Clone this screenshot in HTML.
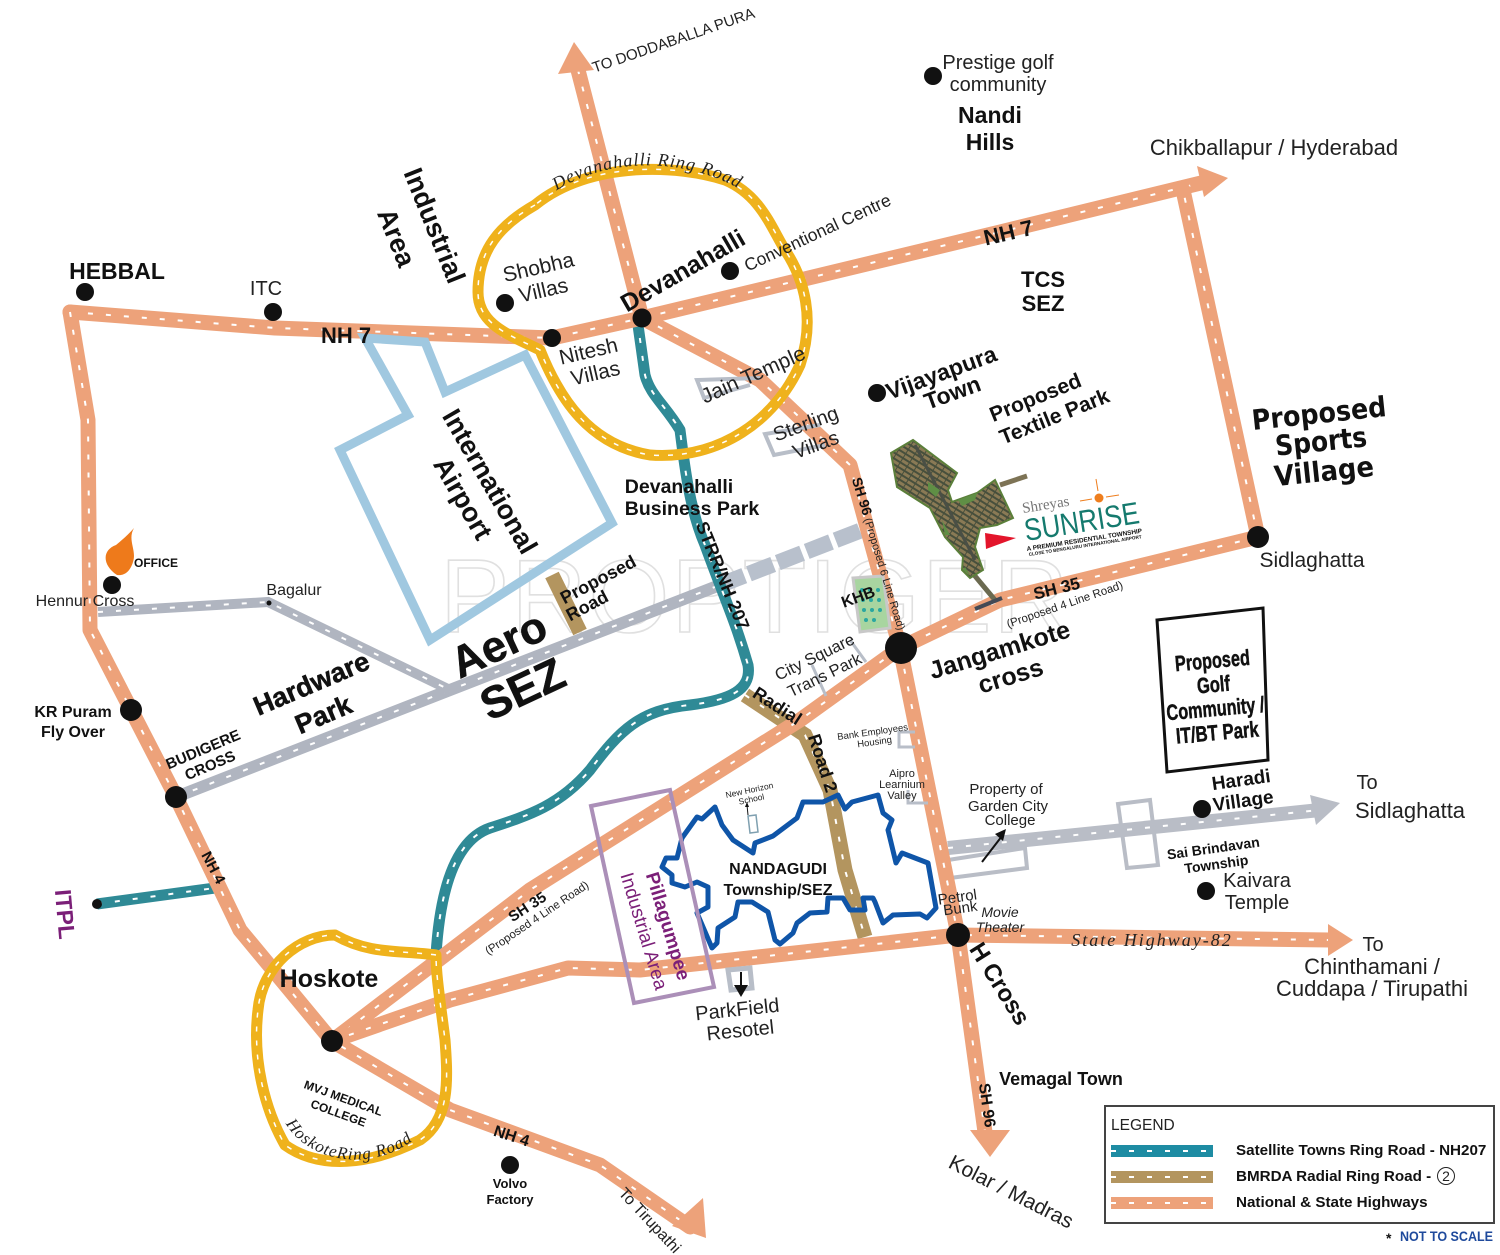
<!DOCTYPE html>
<html><head><meta charset="utf-8"><style>
html,body{margin:0;padding:0;background:#fff}
svg{display:block}
text{font-family:"Liberation Sans",sans-serif;fill:#222}
.o{fill:none;stroke:#EDA27A;stroke-width:15;stroke-linejoin:round;stroke-linecap:round}
.t{fill:none;stroke:#2F8A96;stroke-width:11;stroke-linejoin:round;stroke-linecap:round}
.b{fill:none;stroke:#B3955F;stroke-width:15}
.g{fill:none;stroke:#B0B5C0;stroke-width:12}
.y{fill:none;stroke:#EFB21C;stroke-width:11;stroke-linejoin:round}
.d{fill:none;stroke:#fff;stroke-width:2;stroke-dasharray:5 13}
.yd{fill:none;stroke:#fff;stroke-width:1.5;stroke-dasharray:5 9}
.bk{font-weight:bold;fill:#111}
.c{font-weight:bold;fill:#111;stroke:#111;stroke-width:.5}
.s{font-family:"Liberation Serif",serif;font-style:italic;fill:#222}
</style></head><body>
<svg width="1500" height="1255" viewBox="0 0 1500 1255" xmlns="http://www.w3.org/2000/svg">
<defs>
<path id="n7" d="M70 312L275 328L552 338L642 318L1000 232L1205 182"/>
<path id="nh4" d="M70 312L88 420L90 630L176 797L240 930L332 1041L450 1110L600 1165L690 1227"/>
<path id="nor" d="M642 318L578 70"/>
<path id="sh96" d="M642 318L760 380L850 465L900 648L958 935L985 1132"/>
<path id="sh35" d="M332 1041L530 890L800 720L900 648L1000 600L1258 537"/>
<path id="rt" d="M1258 537L1183 190"/>
<path id="sh82" d="M332 1041L450 1000L568 968L640 970L958 935L1330 940"/>
<path id="te" d="M436 955C440 890 455 840 490 828C530 815 560 805 590 770C620 730 640 710 690 705C730 700 752 690 748 665C735 620 725 600 705 545C690 510 685 470 680 430C665 405 650 395 645 375L637 318"/>
<path id="it" d="M97 904L215 888"/>
<path id="ra" d="M745 695L805 735L830 790L845 870L865 937"/>
<path id="gr" d="M176 797L450 690L720 585"/>
<path id="ba" d="M98 612L268 602L450 690"/>
<path id="rg" d="M948 848L1320 810"/>
<path id="r1" d="M535 205C500 225 478 250 478 292C478 325 510 335 540 350C560 400 590 445 650 455C720 460 775 420 800 365C815 320 805 280 785 250C770 225 760 195 725 180C680 165 590 160 535 205Z"/>
<path id="r2" d="M436 955C400 950 370 955 335 935C300 935 262 965 258 1010C252 1060 265 1110 285 1145C320 1170 370 1165 420 1140C450 1120 448 1080 445 1040C440 1000 436 975 436 955Z"/>
<path id="lab1" d="M537 206C590 155 690 150 760 202"/>
<path id="lab2" d="M282 1116C300 1160 370 1178 420 1135"/>
<pattern id="pl" width="8" height="5" patternUnits="userSpaceOnUse" patternTransform="rotate(32)"><rect width="8" height="5" fill="#474f3c"/><rect x="1" y="1" width="7" height="3" fill="#8a7a55"/></pattern>
</defs>

<!-- watermark -->
<text x="440" y="632" font-size="104" letter-spacing="2" style="fill:none;stroke:#e0e0e0;stroke-width:1.6">PROPTIGER</text>

<!-- grey roads -->
<use href="#gr" class="g"/><use href="#gr" class="d"/>
<use href="#ba" class="g" style="stroke-width:10"/><use href="#ba" class="d"/>
<path d="M720 585L862 530" fill="none" stroke="#B8C0CC" stroke-width="16" stroke-dasharray="26 5"/>
<use href="#rg" class="g" style="stroke-width:14;stroke:#B9BDC6"/><use href="#rg" class="d"/>
<polygon points="1340,803 1310,795 1316,825" fill="#B9BDC6"/>
<path d="M948 860L1025 848L1027 868L950 878Z M1118 804L1150 800L1158 865L1127 868Z" fill="none" stroke="#B9BDC6" stroke-width="4"/>

<!-- brown -->
<path d="M552 575L580 632" class="b"/>
<use href="#ra" class="b"/><use href="#ra" class="d"/>

<!-- teal -->
<use href="#te" class="t"/><use href="#te" class="d"/>
<use href="#it" class="t" style="stroke-linecap:butt"/><use href="#it" class="d"/>

<!-- orange roads -->
<use href="#n7" class="o"/><use href="#n7" class="d"/>
<use href="#nh4" class="o"/><use href="#nh4" class="d"/>
<use href="#nor" class="o"/><use href="#nor" class="d"/>
<use href="#sh96" class="o"/><use href="#sh96" class="d"/>
<use href="#sh35" class="o"/><use href="#sh35" class="d"/>
<use href="#rt" class="o"/><use href="#rt" class="d"/>
<use href="#sh82" class="o"/><use href="#sh82" class="d"/>
<g fill="#EDA27A">
<polygon points="1228,178 1197,166 1204,197"/>
<polygon points="574,42 558,74 594,70"/>
<polygon points="706,1238 672,1226 703,1198"/>
<polygon points="990,1157 970,1130 1010,1130"/>
<polygon points="1353,940 1328,924 1328,956"/>
</g>

<!-- rings -->
<use href="#r1" class="y"/><use href="#r1" class="yd"/>
<use href="#r2" class="y"/><use href="#r2" class="yd"/>

<!-- airport -->
<path d="M365 338L425 342L445 392L525 355L612 523L430 640L340 450L408 415Z" fill="none" stroke="#A0C8E0" stroke-width="9"/>

<!-- outlines small -->
<path d="M760 378L697 380L704 398L750 385" fill="none" stroke="#B8BEC8" stroke-width="4"/>
<path d="M820 425L765 434L774 455L825 445" fill="none" stroke="#B8BEC8" stroke-width="4"/>
<path d="M812 665L826 696M850 640L866 662" stroke="#B8BEC8" stroke-width="3" fill="none"/>
<path d="M915 732L899 732L899 747L915 747" fill="none" stroke="#B8BEC8" stroke-width="3"/>
<path d="M908 790L908 803L928 803" fill="none" stroke="#B8BEC8" stroke-width="3"/>
<path d="M728 970L750 968L752 988L731 990Z" fill="none" stroke="#B8BEC8" stroke-width="5"/>
<polygon points="853,578 883,576 890,628 860,632" fill="#A8D5A0" stroke="#c8c8c8" stroke-width="3"/>
<g fill="#2AA7A0"><circle cx="862" cy="590" r="2"/><circle cx="870" cy="590" r="2"/><circle cx="878" cy="590" r="2"/><circle cx="863" cy="600" r="2"/><circle cx="871" cy="600" r="2"/><circle cx="879" cy="600" r="2"/><circle cx="864" cy="610" r="2"/><circle cx="872" cy="610" r="2"/><circle cx="880" cy="610" r="2"/><circle cx="866" cy="620" r="2"/><circle cx="874" cy="620" r="2"/></g>

<!-- Nandagudi -->
<path d="M662 867L666 858L677 858L682 838L697 817L702 819L715 807L722 825L733 840L753 853L755 843L773 836L797 818L803 802L823 802L838 795L845 809L852 802L878 795L883 813L892 820L888 830L896 863L902 853L928 863L936 908L927 918L920 914L893 915L883 923L875 902L873 898L863 898L865 910L850 910L843 898L828 898L827 912L810 913L797 923L793 933L780 944L775 940L768 912L752 902L738 902L735 917L718 928L717 943L712 948L697 913L708 907L708 887L697 882L685 887L672 883L672 875Z" fill="none" stroke="#0F55A8" stroke-width="5" stroke-linejoin="round"/>
<!-- Pillagumpee box -->
<path d="M591 806L670 790L714 987L634 1003Z" fill="none" stroke="#AB8FB8" stroke-width="4"/>
<!-- New Horizon school -->
<path d="M748 816L756 815L758 832L750 833Z" fill="#fff" stroke="#7FA0B0" stroke-width="1.5"/>
<path d="M748 815L747 805" stroke="#111" stroke-width="1"/>
<polygon points="747,802 745,807 749,807" fill="#111"/>

<!-- township -->
<path d="M1000 485L1027 476" stroke="#7d7355" stroke-width="5"/>
<path d="M970 570L995 600" stroke="#6b6a50" stroke-width="5"/>
<polygon points="891,453 913,440 957,473 948,490 952,502 977,493 995,480 1013,518 997,525 980,528 975,547 983,570 970,578 962,570 963,557 945,537 930,508 897,487" fill="url(#pl)" stroke="#5b7f3a" stroke-width="2"/>
<path d="M915 445L975 560" stroke="#4a4f45" stroke-width="3" fill="none"/>
<path d="M928 482L940 490L936 497L928 490ZM958 500L977 493L975 500L962 506ZM963 570L970 575L965 567ZM942 520L950 535L945 535Z" fill="#5f8f45"/>
<path d="M975 609L1002 598" stroke="#444a55" stroke-width="4"/>
<polygon points="985,533 1016,538 986,549" fill="#E3152B"/>
<text x="1023" y="513" font-size="15" transform="rotate(-9 1023 513)" style="font-family:'Liberation Serif',serif;fill:#777">Shreyas</text>
<text x="1026" y="541" font-size="31" transform="rotate(-9 1026 541)" style="fill:#157A6E" textLength="116" lengthAdjust="spacingAndGlyphs">SUNRISE</text>
<text x="1027" y="551" font-size="6.4" transform="rotate(-9 1027 551)" class="bk">A PREMIUM RESIDENTIAL TOWNSHIP</text>
<text x="1029" y="556" font-size="4.6" transform="rotate(-9 1029 556)" class="bk">CLOSE TO BENGALURU INTERNATIONAL AIRPORT</text>
<circle cx="1099" cy="498" r="4.5" fill="#EE7E1E"/><path d="M1080 501L1092 499M1106 497L1119 495M1096 479L1098 491" stroke="#EE7E1E" stroke-width="1"/>

<!-- black dots -->
<g fill="#111">
<circle cx="85" cy="292" r="9"/><circle cx="273" cy="312" r="9"/><circle cx="505" cy="303" r="9"/><circle cx="552" cy="338" r="9"/>
<circle cx="642" cy="318" r="9.5"/><circle cx="730" cy="271" r="9"/><circle cx="933" cy="76" r="9"/><circle cx="877" cy="393" r="9"/>
<circle cx="1258" cy="537" r="11"/><circle cx="901" cy="648" r="16"/><circle cx="958" cy="935" r="12"/><circle cx="131" cy="710" r="11"/>
<circle cx="176" cy="797" r="11"/><circle cx="332" cy="1041" r="11"/><circle cx="510" cy="1165" r="9"/><circle cx="112" cy="585" r="9"/>
<circle cx="1202" cy="809" r="9"/><circle cx="1206" cy="891" r="9"/><circle cx="97" cy="904" r="5"/><circle cx="269" cy="603" r="2.5"/>
</g>
<path d="M117 575C102 565 102 550 116 545C122 540 128 535 134 528C127 540 137 550 133 562C130 572 124 576 117 575Z" fill="#EE7A1B"/>

<!-- arrows -->
<path d="M982 862L1002 836" stroke="#111" stroke-width="2"/><polygon points="1006,829 995,834 1003,841" fill="#111"/>
<path d="M741 972L741 988" stroke="#111" stroke-width="2"/><polygon points="741,997 734,985 748,985" fill="#111"/>

<!-- boxes -->
<polygon points="1157,620 1263,608 1268,760 1167,772" fill="#fff" stroke="#111" stroke-width="3"/>
<rect x="1105" y="1106" width="389" height="117" fill="#fff" stroke="#444" stroke-width="2"/>
<text x="1111" y="1130" font-size="15.5">LEGEND</text>
<rect x="1111" y="1145" width="102" height="12" fill="#1E8CA3"/><path d="M1111 1151H1213" class="d"/>
<rect x="1111" y="1171" width="102" height="12" fill="#B3955F"/><path d="M1111 1177H1213" class="d"/>
<rect x="1111" y="1197" width="102" height="12" fill="#EDA27A"/><path d="M1111 1203H1213" class="d"/>
<text x="1236" y="1155" class="bk" font-size="15.2">Satellite Towns Ring Road - NH207</text>
<text x="1236" y="1181" class="bk" font-size="15.2">BMRDA Radial Ring Road - </text>
<text x="1236" y="1207" class="bk" font-size="15.2">National &amp; State Highways</text>
<circle cx="1446" cy="1176" r="8.5" fill="none" stroke="#222"/><text x="1446" y="1181" font-size="14" text-anchor="middle">2</text>
<text x="1386" y="1243" font-size="14" class="bk">*</text><text x="1400" y="1241" font-size="13.5" style="font-weight:bold;fill:#1F4A9C" textLength="93" lengthAdjust="spacingAndGlyphs">NOT TO SCALE</text>

<!-- labels -->
<g text-anchor="middle">
<text x="675" y="45" font-size="15" transform="rotate(-19 675 45)">TO DODDABALLA PURA</text>
<text x="998" y="69" font-size="20">Prestige golf</text><text x="998" y="91" font-size="20">community</text>
<text x="990" y="123" font-size="23" class="bk">Nandi</text><text x="990" y="150" font-size="23" class="bk">Hills</text>
<text x="1274" y="155" font-size="22">Chikballapur / Hyderabad</text>
<text class="s" font-size="18" letter-spacing="1"><textPath href="#lab1" startOffset="50%">Devanahalli Ring Road</textPath></text>
<text x="426" y="229" font-size="27" class="bk" transform="rotate(68 426 229)">Industrial</text>
<text x="388" y="241" font-size="27" class="bk" transform="rotate(68 388 241)">Area</text>
<text x="117" y="279" font-size="23" class="bk">HEBBAL</text>
<text x="266" y="295" font-size="20">ITC</text>
<text x="346" y="343" font-size="22" class="bk">NH 7</text>
<text x="540" y="274" font-size="21" transform="rotate(-13 540 274)">Shobha</text>
<text x="545" y="297" font-size="21" transform="rotate(-13 545 297)">Villas</text>
<text x="687" y="278" font-size="25" class="bk" transform="rotate(-30 687 278)">Devanahalli</text>
<text x="820" y="238" font-size="17.5" transform="rotate(-25 820 238)">Conventional Centre</text>
<text x="1010" y="240" font-size="22" class="bk" transform="rotate(-13 1010 240)">NH 7</text>
<text x="1043" y="287" font-size="22" class="bk">TCS</text><text x="1043" y="311" font-size="22" class="bk">SEZ</text>
<text x="590" y="358" font-size="21" transform="rotate(-13 590 358)">Nitesh</text>
<text x="597" y="380" font-size="21" transform="rotate(-13 597 380)">Villas</text>
<text x="756" y="381" font-size="21" transform="rotate(-24 756 381)">Jain Temple</text>
<text x="808" y="430" font-size="20" transform="rotate(-20 808 430)">Sterling</text>
<text x="818" y="451" font-size="20" transform="rotate(-20 818 451)">Villas</text>
<text x="944" y="380" font-size="23" class="bk" transform="rotate(-20 944 380)">Vijayapura</text>
<text x="955" y="400" font-size="23" class="bk" transform="rotate(-20 955 400)">Town</text>
<text x="1038" y="404" font-size="21" class="bk" transform="rotate(-22 1038 404)">Proposed</text>
<text x="1057" y="423" font-size="21" class="bk" transform="rotate(-22 1057 423)">Textile Park</text>
<text x="1320" y="423" font-size="28" class="bk" transform="rotate(-6 1320 423)" style="font-family:'DejaVu Sans',sans-serif" textLength="135" lengthAdjust="spacingAndGlyphs">Proposed</text>
<text x="1322" y="451" font-size="28" class="bk" transform="rotate(-6 1322 451)" style="font-family:'DejaVu Sans',sans-serif" textLength="92" lengthAdjust="spacingAndGlyphs">Sports</text>
<text x="1325" y="481" font-size="28" class="bk" transform="rotate(-6 1325 481)" style="font-family:'DejaVu Sans',sans-serif" textLength="100" lengthAdjust="spacingAndGlyphs">Village</text>
<text x="482" y="486" font-size="27" class="bk" transform="rotate(60 482 486)">International</text>
<text x="455" y="503" font-size="27" class="bk" transform="rotate(60 455 503)">Airport</text>
<text x="679" y="493" font-size="19.5" class="bk">Devanahalli</text>
<text x="692" y="515" font-size="19.5" class="bk">Business Park</text>
<text x="717" y="578" font-size="18" class="bk" transform="rotate(68 717 578)">STRR/NH 207</text>
<text x="875" y="555" font-size="11" transform="rotate(73 875 555)"><tspan class="bk" font-size="14">SH 96</tspan> (Proposed 6 Line Road)</text>
<text x="1312" y="567" font-size="21">Sidlaghatta</text>
<text x="601" y="585" font-size="18" class="bk" transform="rotate(-28 601 585)">Proposed</text>
<text x="590" y="611" font-size="18" class="bk" transform="rotate(-28 590 611)">Road</text>
<text x="294" y="595" font-size="16">Bagalur</text>
<text x="85" y="606" font-size="16">Hennur Cross</text>
<text x="156" y="567" font-size="12" class="bk">OFFICE</text>
<text x="505" y="658" font-size="44" class="c" transform="rotate(-25 505 658)">Aero</text>
<text x="529" y="703" font-size="45" class="c" transform="rotate(-25 529 703)">SEZ</text>
<text x="315" y="692" font-size="27" class="c" transform="rotate(-23 315 692)">Hardware</text>
<text x="327" y="723" font-size="27" class="c" transform="rotate(-23 327 723)">Park</text>
<text x="73" y="717" font-size="16" class="bk">KR Puram</text><text x="73" y="737" font-size="16" class="bk">Fly Over</text>
<text x="205" y="754" font-size="15" class="bk" transform="rotate(-23 205 754)">BUDIGERE</text>
<text x="212" y="770" font-size="15" class="bk" transform="rotate(-23 212 770)">CROSS</text>
<text x="209" y="870" font-size="15" class="bk" transform="rotate(62 209 870)">NH 4</text>
<text x="57" y="915" font-size="23" class="bk" transform="rotate(85 57 915)" style="fill:#7B1F78">ITPL</text>
<text x="817" y="662" font-size="16.5" transform="rotate(-26 817 662)">City Square</text>
<text x="827" y="680" font-size="16.5" transform="rotate(-26 827 680)">Trans Park</text>
<text x="860" y="602" font-size="16" class="bk" transform="rotate(-20 860 602)">KHB</text>
<text x="1058" y="594" font-size="17" class="bk" transform="rotate(-14 1058 594)">SH 35</text>
<text x="1066" y="608" font-size="11.5" transform="rotate(-19 1066 608)">(Proposed 4 Line Road)</text>
<text x="1002" y="658" font-size="25" class="bk" transform="rotate(-17 1002 658)">Jangamkote</text>
<text x="1013" y="684" font-size="25" class="bk" transform="rotate(-17 1013 684)">cross</text>
<text x="774" y="711" font-size="18" class="bk" transform="rotate(33 774 711)">Radial</text>
<text x="817" y="765" font-size="18" class="bk" transform="rotate(72 817 765)">Road 2</text>
<text x="873" y="735" font-size="9.5" transform="rotate(-8 873 735)">Bank Employees</text>
<text x="875" y="745" font-size="9.5" transform="rotate(-8 875 745)">Housing</text>
<text x="902" y="777" font-size="11">Aipro</text><text x="902" y="788" font-size="11">Learnium</text><text x="902" y="799" font-size="11">Valley</text>
<text x="750" y="793" font-size="8.5" transform="rotate(-12 750 793)">New Horizon</text>
<text x="752" y="802" font-size="8.5" transform="rotate(-12 752 802)">School</text>
<text x="1006" y="794" font-size="15">Property of</text><text x="1008" y="811" font-size="15">Garden City</text><text x="1010" y="825" font-size="15">College</text>
<text x="1213" y="668" font-size="22" class="c" textLength="75" lengthAdjust="spacingAndGlyphs" transform="rotate(-5 1213 668)">Proposed</text>
<text x="1214" y="692" font-size="22" class="c" textLength="33" lengthAdjust="spacingAndGlyphs" transform="rotate(-5 1214 692)">Golf</text>
<text x="1216" y="716" font-size="22" class="c" textLength="98" lengthAdjust="spacingAndGlyphs" transform="rotate(-5 1216 716)">Community /</text>
<text x="1218" y="740" font-size="22" class="c" textLength="83" lengthAdjust="spacingAndGlyphs" transform="rotate(-5 1218 740)">IT/BT Park</text>
<text x="1242" y="786" font-size="19" class="bk" transform="rotate(-8 1242 786)">Haradi</text>
<text x="1244" y="807" font-size="19" class="bk" transform="rotate(-8 1244 807)">Village</text>
<text x="1367" y="789" font-size="20">To</text><text x="1410" y="818" font-size="22">Sidlaghatta</text>
<text x="1214" y="853" font-size="14" class="bk" transform="rotate(-8 1214 853)">Sai Brindavan</text>
<text x="1217" y="869" font-size="14" class="bk" transform="rotate(-8 1217 869)">Township</text>
<text x="1257" y="887" font-size="20">Kaivara</text><text x="1257" y="909" font-size="20">Temple</text>
<text x="778" y="874" font-size="16" class="bk">NANDAGUDI</text>
<text x="778" y="895" font-size="16" class="bk">Township/SEZ</text>
<text x="662" y="928" font-size="19" class="bk" transform="rotate(73 662 928)" style="fill:#7B1F78">Pillagumpee</text>
<text x="638" y="933" font-size="19" transform="rotate(73 638 933)" style="fill:#7B1F78">Industrial Area</text>
<text x="958" y="902" font-size="15" transform="rotate(-8 958 902)">Petrol</text>
<text x="961" y="913" font-size="15" transform="rotate(-8 961 913)">Bunk</text>
<text x="1000" y="917" font-size="14" style="font-style:italic">Movie</text>
<text x="1000" y="932" font-size="14" style="font-style:italic">Theater</text>
<text x="1152" y="946" class="s" font-size="18" letter-spacing="2">State Highway-82</text>
<text x="1373" y="951" font-size="20">To</text><text x="1372" y="974" font-size="22">Chinthamani /</text><text x="1372" y="996" font-size="22">Cuddapa / Tirupathi</text>
<text x="993" y="988" font-size="24" class="bk" transform="rotate(58 993 988)">H Cross</text>
<text x="530" y="911" font-size="15" class="bk" transform="rotate(-33 530 911)">SH 35</text>
<text x="539" y="921" font-size="11.5" transform="rotate(-34 539 921)">(Proposed 4 Line Road)</text>
<text x="329" y="987" font-size="25" class="bk">Hoskote</text>
<text x="342" y="1102" font-size="12" class="bk" transform="rotate(20 342 1102)">MVJ MEDICAL</text>
<text x="337" y="1117" font-size="12" class="bk" transform="rotate(20 337 1117)">COLLEGE</text>
<text class="s" font-size="17" letter-spacing="1"><textPath href="#lab2" startOffset="50%">HoskoteRing Road</textPath></text>
<text x="510" y="1141" font-size="16" class="bk" transform="rotate(18 510 1141)">NH 4</text>
<text x="510" y="1188" font-size="13" class="bk">Volvo</text><text x="510" y="1204" font-size="13" class="bk">Factory</text>
<text x="646" y="1224" font-size="16" transform="rotate(47 646 1224)">To Tirupathi</text>
<text x="738" y="1016" font-size="20" transform="rotate(-6 738 1016)">ParkField</text>
<text x="741" y="1037" font-size="20" transform="rotate(-6 741 1037)">Resotel</text>
<text x="1061" y="1085" font-size="18" class="bk">Vemagal Town</text>
<text x="982" y="1106" font-size="16" class="bk" transform="rotate(82 982 1106)">SH 96</text>
<text x="1008" y="1198" font-size="21" transform="rotate(27 1008 1198)">Kolar / Madras</text>
</g>
</svg>
</body></html>
